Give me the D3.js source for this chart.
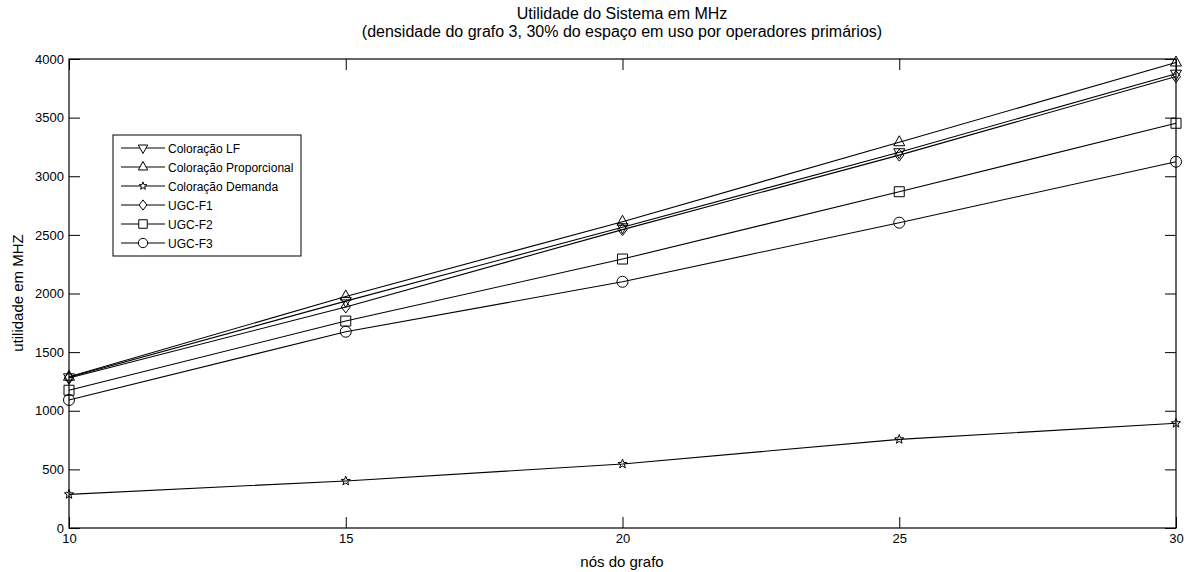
<!DOCTYPE html>
<html>
<head>
<meta charset="utf-8">
<script src="https://cdn.jsdelivr.net/npm/d3@7"></script>
<style>
  html, body { margin: 0; padding: 0; background: #fff; }
  svg text { font-family: "Liberation Sans", Arial, sans-serif; fill: #000; }
</style>
</head>
<body>
<svg id="chart" width="1191" height="572"></svg>
<script>
// Number of graph nodes on the x axis
const nodes = [10, 15, 20, 25, 30];

// System utility (MHz) for each algorithm
const coloracaoLF = [1285, 1935, 2565, 3205, 3875];
const coloracaoProporcional = [1290, 1975, 2612, 3290, 3970];
const coloracaoDemanda = [287, 401, 546, 756, 893];
const ugcF1 = [1280, 1885, 2545, 3180, 3850];
const ugcF2 = [1175, 1765, 2294, 2868, 3452];
const ugcF3 = [1092, 1674, 2100, 2604, 3124];

const seriesNames = ["Coloração LF", "Coloração Proporcional", "Coloração Demanda", "UGC-F1", "UGC-F2", "UGC-F3"];
const seriesValues = [coloracaoLF, coloracaoProporcional, coloracaoDemanda, ugcF1, ugcF2, ugcF3];
const seriesMarkers = ["triangleDown", "triangleUp", "star", "diamond", "square", "circle"];

const xTicks = [10, 15, 20, 25, 30];
const yTicks = [0, 500, 1000, 1500, 2000, 2500, 3000, 3500, 4000];

const svg = d3.select("#chart");
const plotLeft = 69, plotRight = 1176, plotTop = 59, plotBottom = 528;

const x = d3.scaleLinear().domain([10, 30]).range([plotLeft, plotRight]);
const y = d3.scaleLinear().domain([0, 4000]).range([plotBottom, plotTop]);

// Marker path generators, centred on the origin
function markerPath(type, s = 1) {
  const p = d3.path();
  if (type === "triangleUp") {
    p.moveTo(0, -6.5 * s); p.lineTo(5.5 * s, 3.5 * s); p.lineTo(-5.5 * s, 3.5 * s); p.closePath();
  } else if (type === "triangleDown") {
    p.moveTo(0, 6.5 * s); p.lineTo(5.5 * s, -3.5 * s); p.lineTo(-5.5 * s, -3.5 * s); p.closePath();
  } else if (type === "diamond") {
    p.moveTo(0, -6 * s); p.lineTo(4.5 * s, 0); p.lineTo(0, 6 * s); p.lineTo(-4.5 * s, 0); p.closePath();
  } else if (type === "square") {
    p.rect(-5 * s, -5 * s, 10 * s, 10 * s);
  } else if (type === "circle") {
    p.moveTo(5.5 * s, 0);
    p.arc(0, 0, 5.5 * s, 0, 2 * Math.PI);
  } else if (type === "star") {
    const R = 4.8 * s, r = 2.0 * s;
    for (let i = 0; i < 10; i++) {
      const rad = i % 2 === 0 ? R : r;
      const a = -Math.PI / 2 + i * Math.PI / 5;
      const px = rad * Math.cos(a), py = rad * Math.sin(a);
      if (i === 0) p.moveTo(px, py); else p.lineTo(px, py);
    }
    p.closePath();
  }
  return p.toString();
}

// Axes box
svg.append("rect")
  .attr("x", plotLeft).attr("y", plotTop)
  .attr("width", plotRight - plotLeft).attr("height", plotBottom - plotTop)
  .attr("fill", "none").attr("stroke", "#000").attr("stroke-width", 1.2);

// Inward ticks on all four sides
const tickLen = 11;
const bottomAxis = d3.axisBottom(x).tickValues(xTicks).tickSize(-tickLen).tickPadding(6).tickFormat(d3.format("d"));
const topAxis = d3.axisTop(x).tickValues(xTicks).tickSize(-tickLen).tickFormat("");
const leftAxis = d3.axisLeft(y).tickValues(yTicks).tickSize(-tickLen).tickPadding(5).tickFormat(d3.format("d"));
const rightAxis = d3.axisRight(y).tickValues(yTicks).tickSize(-tickLen).tickFormat("");

function styleAxis(g) {
  g.select(".domain").remove();
  g.selectAll(".tick line").attr("stroke", "#000").attr("stroke-width", 1);
  g.selectAll(".tick text").attr("font-size", 13).attr("fill", "#000")
    .attr("font-family", "Liberation Sans, Arial, sans-serif");
}
svg.append("g").attr("transform", `translate(0,${plotBottom})`).call(bottomAxis).call(styleAxis);
svg.append("g").attr("transform", `translate(0,${plotTop})`).call(topAxis).call(styleAxis);
svg.append("g").attr("transform", `translate(${plotLeft},0)`).call(leftAxis).call(styleAxis);
svg.append("g").attr("transform", `translate(${plotRight},0)`).call(rightAxis).call(styleAxis);

// Lines and markers
const line = d3.line().x((d, i) => x(nodes[i])).y(d => y(d));
seriesValues.forEach((vals, k) => {
  svg.append("path")
    .attr("d", line(vals))
    .attr("fill", "none").attr("stroke", "#000").attr("stroke-width", 1.1);
  svg.append("g").selectAll("path")
    .data(vals)
    .join("path")
    .attr("transform", (d, i) => `translate(${x(nodes[i])},${y(d)})`)
    .attr("d", markerPath(seriesMarkers[k]))
    .attr("fill", "none").attr("stroke", "#000").attr("stroke-width", 1);
});

// Legend
const legend = svg.append("g");
legend.append("rect")
  .attr("x", 113).attr("y", 135).attr("width", 188).attr("height", 121)
  .attr("fill", "#fff").attr("stroke", "#000").attr("stroke-width", 1);
seriesNames.forEach((name, k) => {
  const ly = 148 + k * 19;
  legend.append("line").attr("x1", 121).attr("x2", 165).attr("y1", ly).attr("y2", ly)
    .attr("stroke", "#000").attr("stroke-width", 1.1);
  legend.append("path").attr("transform", `translate(143,${ly})`)
    .attr("d", markerPath(seriesMarkers[k], 0.85))
    .attr("fill", "#fff").attr("stroke", "#000").attr("stroke-width", 1);
  legend.append("text").attr("x", 168).attr("y", ly + 4.5)
    .attr("font-size", 12).text(name);
});

// Titles and axis labels
svg.append("text").attr("x", 622).attr("y", 19).attr("text-anchor", "middle")
  .attr("font-size", 16).text("Utilidade do Sistema em MHz");
svg.append("text").attr("x", 622).attr("y", 37).attr("text-anchor", "middle")
  .attr("font-size", 16).text("(densidade do grafo 3, 30% do espaço em uso por operadores primários)");
svg.append("text").attr("x", 622).attr("y", 567).attr("text-anchor", "middle")
  .attr("font-size", 15).text("nós do grafo");
svg.append("text").attr("transform", "translate(23,293) rotate(-90)")
  .attr("text-anchor", "middle").attr("font-size", 15).text("utilidade em MHZ");
</script>
</body>
</html>
